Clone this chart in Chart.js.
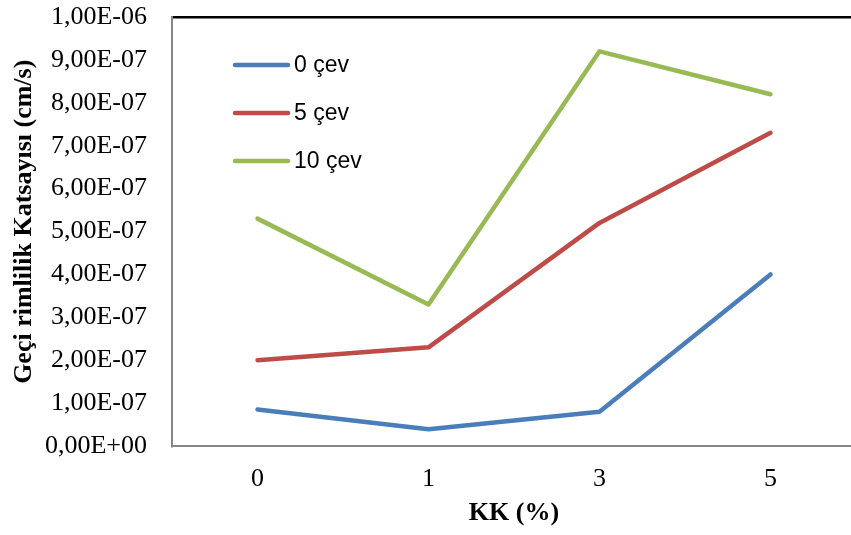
<!DOCTYPE html>
<html>
<head>
<meta charset="utf-8">
<script src="https://cdn.jsdelivr.net/npm/chart.js@4"></script>
<style>
  html, body { margin: 0; padding: 0; background: #fff; overflow: hidden; }
  #wrap { width: 860px; height: 535px; }
</style>
</head>
<body>
<div id="wrap"><canvas id="chart"></canvas></div>
<script>
// categories (KK %)
const categories = ['0', '1', '3', '5'];

// permeability values (cm/s) per cycle count
const cev0 = [0.85e-7, 0.39e-7, 0.80e-7, 4.0e-7];
const cev5 = [2.0e-7, 2.3e-7, 5.2e-7, 7.3e-7];
const cev10 = [5.3e-7, 3.3e-7, 9.2e-7, 8.2e-7];

const seriesNames = ['0 çev', '5 çev', '10 çev'];
const yTickValues = [0, 1e-7, 2e-7, 3e-7, 4e-7, 5e-7, 6e-7, 7e-7, 8e-7, 9e-7, 1e-6];

const serif = '"Liberation Serif", "Times New Roman", serif';

// 9e-7 -> "9,00E-07"
function sciComma(v) {
  const parts = Number(v).toExponential(2).split('e');
  const mant = parts[0].replace('.', ',');
  const exp = parseInt(parts[1], 10);
  const sign = exp < 0 ? '-' : '+';
  return mant + 'E' + sign + String(Math.abs(exp)).padStart(2, '0');
}

// legend drawn inside the plot area, like the Excel original
const innerLegend = {
  id: 'innerLegend',
  afterDraw(chart) {
    const ctx = chart.ctx;
    ctx.save();
    ctx.font = '23px "Liberation Sans", Arial, sans-serif';
    ctx.textBaseline = 'middle';
    ctx.textAlign = 'left';
    chart.data.datasets.forEach((ds, i) => {
      const y = 65 + i * 48;
      ctx.strokeStyle = ds.borderColor;
      ctx.lineWidth = 4.5;
      ctx.lineCap = 'round';
      ctx.beginPath();
      ctx.moveTo(235, y);
      ctx.lineTo(288, y);
      ctx.stroke();
      ctx.fillStyle = '#000';
      ctx.fillText(ds.label, 294, y + 1);
    });
    ctx.restore();
  }
};

const makeSet = (label, data, color) => ({
  label: label,
  data: data,
  borderColor: color,
  backgroundColor: color,
  borderWidth: 4.5,
  pointRadius: 0,
  tension: 0,
  borderCapStyle: 'round',
  borderJoinStyle: 'round'
});

new Chart(document.getElementById('chart'), {
  type: 'line',
  data: {
    labels: categories,
    datasets: [
      makeSet(seriesNames[0], cev0, '#4A7EBB'),
      makeSet(seriesNames[1], cev5, '#BE4B48'),
      makeSet(seriesNames[2], cev10, '#98B954')
    ]
  },
  options: {
    responsive: true,
    maintainAspectRatio: false,
    animation: false,
    layout: { padding: { left: 0, top: 17, right: 4, bottom: 0 } },
    plugins: {
      legend: { display: false },
      tooltip: { enabled: false }
    },
    scales: {
      x: {
        offset: true,
        grid: { display: false, drawTicks: false },
        border: { color: '#868686', width: 2 },
        ticks: {
          color: '#000',
          padding: 18,
          font: { family: serif, size: 26 }
        },
        title: {
          display: true,
          text: 'KK (%)',
          color: '#000',
          padding: { top: 0, bottom: 6 },
          font: { family: serif, size: 26, weight: 'bold' }
        },
        afterFit(scale) { scale.height = 89; }
      },
      y: {
        min: 0,
        max: 1e-6,
        afterBuildTicks(scale) {
          scale.ticks = yTickValues.map(v => ({ value: v }));
        },
        grid: {
          drawTicks: true,
          tickLength: 24,
          tickColor: 'rgba(0,0,0,0)',
          lineWidth: 2.5,
          color: (c) => (c.tick && c.tick.value >= 0.99e-6) ? '#000' : 'rgba(0,0,0,0)'
        },
        border: { color: '#868686', width: 2 },
        ticks: {
          color: '#000',
          padding: 1,
          font: { family: serif, size: 26 },
          callback: (v) => sciComma(v)
        },
        title: {
          display: true,
          // leading spaces nudge the centred title up a little, as in the original
          text: '   Geçi rimlilik Katsayısı (cm/s)',
          color: '#000',
          padding: { top: 9, bottom: 0 },
          font: { family: serif, size: 26, weight: 'bold' }
        },
        afterFit(scale) { scale.width = 172; }
      }
    }
  },
  plugins: [innerLegend]
});
</script>
</body>
</html>
